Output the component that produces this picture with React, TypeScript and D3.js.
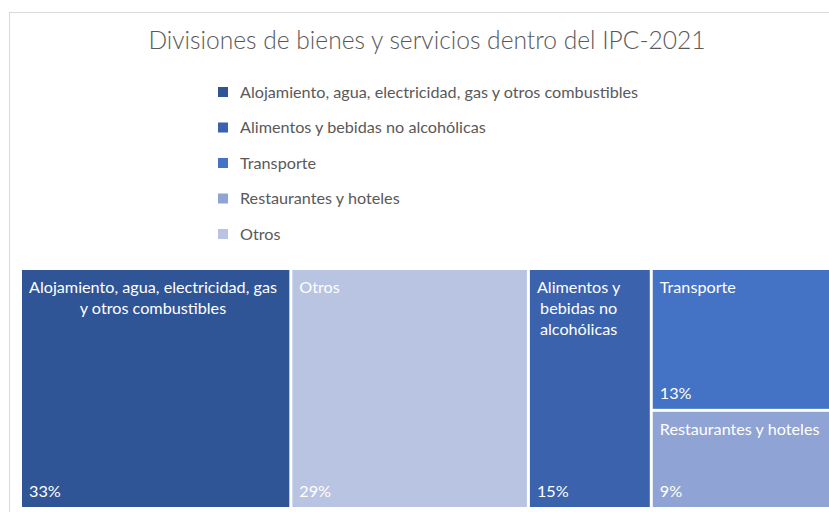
import React, { useEffect, useRef } from 'react';
import * as d3 from 'd3';

// IPC-2021 divisions (share of the basket, %)
const categories = [
  'Alojamiento, agua, electricidad, gas y otros combustibles',
  'Alimentos y bebidas no alcohólicas',
  'Transporte',
  'Restaurantes y hoteles',
  'Otros',
];
const shares = [33, 15, 13, 9, 29];
const colors = ['#2F5597', '#3A62AD', '#4472C4', '#8FA3D4', '#B9C3E2'];
const title = 'Divisiones de bienes y servicios dentro del IPC-2021';

const FONT = 'Lato, "Open Sans", sans-serif';

export default function App() {
  const svgRef = useRef<SVGSVGElement>(null);

  useEffect(() => {
    const width = 829;
    const height = 512;
    const svg = d3.select(svgRef.current);
    svg.selectAll('*').remove();
    svg.attr('width', width).attr('height', height);

    svg.append('rect').attr('width', width).attr('height', height).attr('fill', '#fff');

    // chart area border
    svg.append('rect')
      .attr('x', 9.5).attr('y', 12.5)
      .attr('width', 900).attr('height', 600)
      .attr('fill', 'none')
      .attr('stroke', '#D9D9D9');

    svg.append('text')
      .attr('x', 427).attr('y', 49)
      .attr('text-anchor', 'middle')
      .attr('font-family', FONT)
      .attr('font-weight', 300)
      .attr('font-size', 24.6)
      .attr('fill', '#595959')
      .text(title);

    // legend
    const legendY = d3.scaleLinear().domain([0, categories.length - 1]).range([92, 234]);
    const item = svg.append('g').selectAll('g')
      .data(categories)
      .enter()
      .append('g')
      .attr('transform', (d, i) => `translate(218,${legendY(i)})`);
    item.append('rect')
      .attr('x', 0).attr('y', -5)
      .attr('width', 10).attr('height', 10)
      .attr('fill', (d, i) => colors[i]);
    item.append('text')
      .attr('x', 22).attr('y', 5.5)
      .attr('font-family', FONT)
      .attr('font-size', 16.2)
      .attr('fill', '#595959')
      .text(d => d);

    // treemap
    const x0 = 22, y0 = 270, x1 = 830, y1 = 507;
    const root = d3.hierarchy({
      name: 'root',
      children: categories.map((c, i) => ({ name: c, value: shares[i], color: colors[i] })),
    } as any)
      .sum((d: any) => d.value || 0)
      .sort((a, b) => (b.value || 0) - (a.value || 0));

    d3.treemap()
      .tile(d3.treemapSquarify.ratio(1))
      .size([x1 - x0, y1 - y0])
      .paddingInner(3)(root as any);

    const cells = svg.append('g')
      .attr('transform', `translate(${x0},${y0})`)
      .selectAll('g')
      .data(root.leaves() as any[])
      .enter()
      .append('g')
      .attr('transform', (d: any) => `translate(${d.x0},${d.y0})`);

    cells.append('rect')
      .attr('width', (d: any) => d.x1 - d.x0)
      .attr('height', (d: any) => d.y1 - d.y0)
      .attr('fill', (d: any) => d.data.color);

    cells.each(function (d: any) {
      const g = d3.select(this);
      const w = d.x1 - d.x0;
      const h = d.y1 - d.y0;
      const maxW = w - 14;
      const label = g.append('text')
        .attr('font-family', FONT)
        .attr('font-size', 16.2)
        .attr('fill', '#fff');
      // word wrap
      const words = d.data.name.split(' ');
      const lines: string[] = [];
      let line = '';
      const probe = label.append('tspan');
      words.forEach((wd: string) => {
        const test = line ? line + ' ' + wd : wd;
        probe.text(test);
        if ((probe.node() as SVGTSpanElement).getComputedTextLength() > maxW && line) {
          lines.push(line);
          line = wd;
        } else {
          line = test;
        }
      });
      lines.push(line);
      const widths = lines.map(l => {
        probe.text(l);
        return (probe.node() as SVGTSpanElement).getComputedTextLength();
      });
      probe.remove();
      const blockW = d3.max(widths) || 0;
      lines.forEach((l, i) => {
        label.append('tspan')
          .attr('x', 7 + blockW / 2)
          .attr('y', 23 + i * 21)
          .attr('text-anchor', 'middle')
          .text(l);
      });

      g.append('text')
        .attr('x', 7).attr('y', h - 10)
        .attr('font-family', FONT)
        .attr('font-size', 16.2)
        .attr('fill', '#fff')
        .text(d3.format('.0f')(d.value) + '%');
    });
  }, []);

  return <svg ref={svgRef} style={{ position: 'absolute', left: 0, top: 0 }} />;
}
